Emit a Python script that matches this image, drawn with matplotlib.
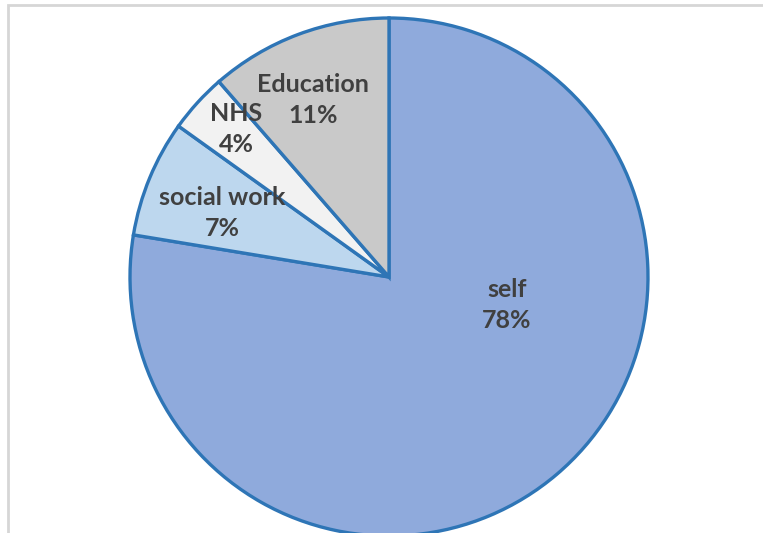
import matplotlib.pyplot as plt
from matplotlib.patches import Rectangle

plt.switch_backend('agg')

# Data
categories = ["self", "social work", "NHS", "Education"]
shares = [77.6, 7.3, 3.7, 11.4]
colors = ["#8FAADC", "#BDD7EE", "#F2F2F2", "#C9C9C9"]

# label centres in pixel coords (x, y from bottom)
label_pos = [(507, 228), (222, 320), (236, 404), (313, 433)]

fig = plt.figure(figsize=(7.63, 5.33), dpi=100)
ax = fig.add_axes([0, 0, 1, 1])
ax.axis("off")

# grey chart frame, cut off right and bottom
fig.add_artist(Rectangle((8 / 763, -0.1), 1.2, (528 / 533) + 0.1,
                         transform=fig.transFigure, fill=False,
                         edgecolor="#D6D6D6", linewidth=2))

ax.pie(shares, colors=colors, startangle=90, counterclock=False,
       center=(389, 256), radius=259,
       wedgeprops=dict(edgecolor="#2E75B6", linewidth=2.4))
ax.set_aspect("equal")
ax.set_xlim(0, 763)
ax.set_ylim(0, 533)

total = sum(shares)
for name, val, (x, y) in zip(categories, shares, label_pos):
    ax.text(x, y, f"{name}\n{round(val / total * 100):.0f}%",
            ha="center", va="center", fontsize=18, family="Lato",
            fontweight="bold", color="#404040", linespacing=1.45)

plt.savefig("out.png", dpi=100)
plt.close()
